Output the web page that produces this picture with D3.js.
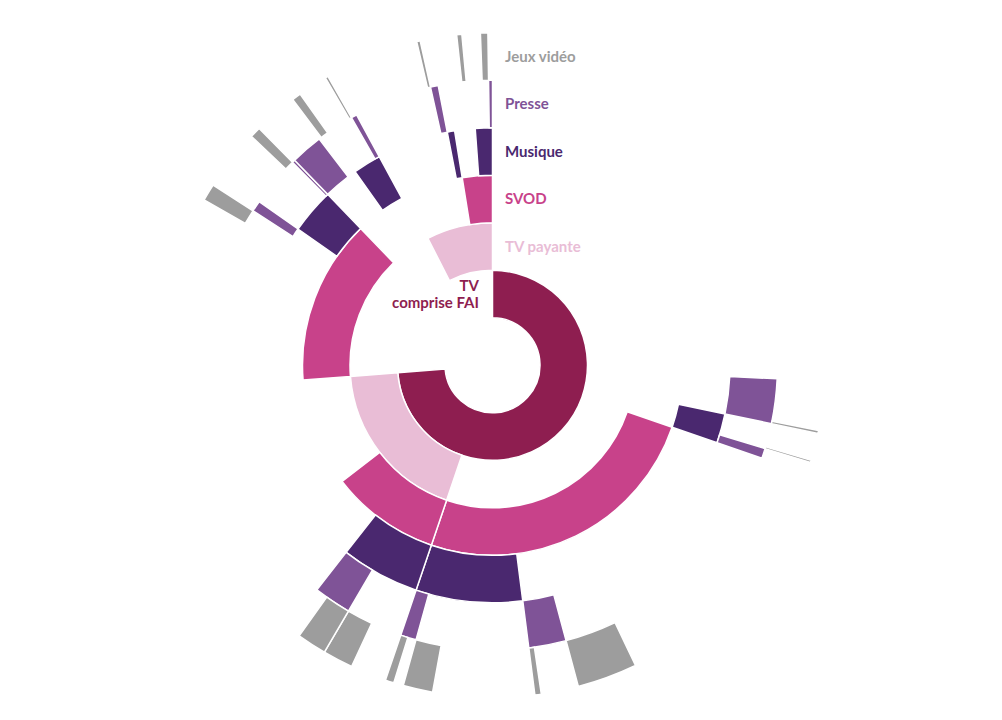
<!DOCTYPE html>
<html lang="fr">
<head>
<meta charset="utf-8">
<script src="https://d3js.org/d3.v7.min.js"></script>
<style>
  body { margin: 0; background: #fff; }
  svg { display: block; font-family: Lato, "Open Sans", sans-serif; }
</style>
</head>
<body>
<div id="chart"></div>
<script>

// Layers, from the centre outwards
const layers = ["TV comprise FAI", "TV payante", "SVOD", "Musique", "Presse", "Jeux vidéo"];
const colours = ["#8e1e50", "#e9bdd6", "#c8428a", "#4a286f", "#7f5397", "#9d9d9d"];

// Household profiles in clockwise order: one flag per layer, "1" = has it
const combos = [
    "100000", "100010", "100011", "100100", "100101", "100110",
    "101000", "101001", "101010", "101011", "101100", "101101", "101110", "101111",
    "111100", "111101", "111111", "111110", "111000", "110000",
    "001000", "001001", "001010", "001100", "001101", "001110",
    "000010", "000000", "000001", "000100", "000101", "000110", "000000",
    "010000", "010001", "010010", "010100",
    "011000", "011001", "011000", "011100", "011101", "011110"
];

// Share of households for each profile (%)
const shares = [
    25.75, 2.39, 0.14, 1.33, 0.11, 0.56,
    12.64, 2.92, 1.81, 0.31, 4.92, 1.44, 0.47, 0.42,
    1.75, 1.47, 1.44, 0.69, 3.97, 9.22,
    9.53, 0.83, 0.61, 2.36, 0.53, 0.17,
    1.81, 0.14, 0.44, 1.44, 0.14, 0.33, 0.42,
    3.83, 0.17, 0.44, 0.5,
    0.83, 0.25, 0.31, 0.58, 0.36, 0.22
];

const width = 1002, height = 720;
const cx = 492.5, cy = 365.3;
const ring = 47.5;

const svg = d3.select("#chart")
    .append("svg")
    .attr("width", width)
    .attr("height", height);

const g = svg.append("g")
    .attr("transform", "translate(" + cx + "," + cy + ")");

// scales
const angle = d3.scaleLinear()
    .domain([0, d3.sum(shares)])
    .range([0, 2 * Math.PI]);

const radius = d3.scaleLinear()
    .domain([0, layers.length + 1])
    .range([0, ring * (layers.length + 1)]);

// cumulative position of each profile
const starts = d3.cumsum([0].concat(shares));

// one segment per run of profiles sharing the same path, when the layer is "1"
const segments = [];
layers.forEach(function(name, k) {
    let i = 0;
    while (i < combos.length) {
        const key = combos[i].slice(0, k + 1);
        let j = i;
        while (j < combos.length && combos[j].slice(0, k + 1) === key) j++;
        if (key[k] === "1") segments.push({layer: k, from: starts[i], to: starts[j]});
        i = j;
    }
});

const arc = d3.arc()
    .startAngle(function(d) { return angle(d.from); })
    .endAngle(function(d) { return angle(d.to); })
    .innerRadius(function(d) { return radius(d.layer + 1); })
    .outerRadius(function(d) { return radius(d.layer + 2); });

g.selectAll("path")
    .data(segments)
    .join("path")
    .attr("d", arc)
    .attr("fill", function(d) { return colours[d.layer]; })
    .attr("stroke", "#fff")
    .attr("stroke-width", 1.5);

// layer labels along the top
g.selectAll("text.layer")
    .data(layers.slice(1))
    .join("text")
    .attr("class", "layer")
    .attr("x", 12.5)
    .attr("y", function(d, i) { return -radius(i + 2.5); })
    .attr("dy", "0.35em")
    .attr("fill", function(d, i) { return colours[i + 1]; })
    .style("font-size", "15px")
    .style("font-weight", 700)
    .text(function(d) { return d; });

// first layer label on two lines
const first = g.append("text")
    .attr("text-anchor", "end")
    .attr("fill", colours[0])
    .style("font-size", "15px")
    .style("font-weight", 700);

first.selectAll("tspan")
    .data(["TV", "comprise FAI"])
    .join("tspan")
    .attr("x", -13.5)
    .attr("y", function(d, i) { return -radius(1.5) + (i - 0.5) * 17; })
    .attr("dy", "0.35em")
    .text(function(d) { return d; });

</script>
</body>
</html>
